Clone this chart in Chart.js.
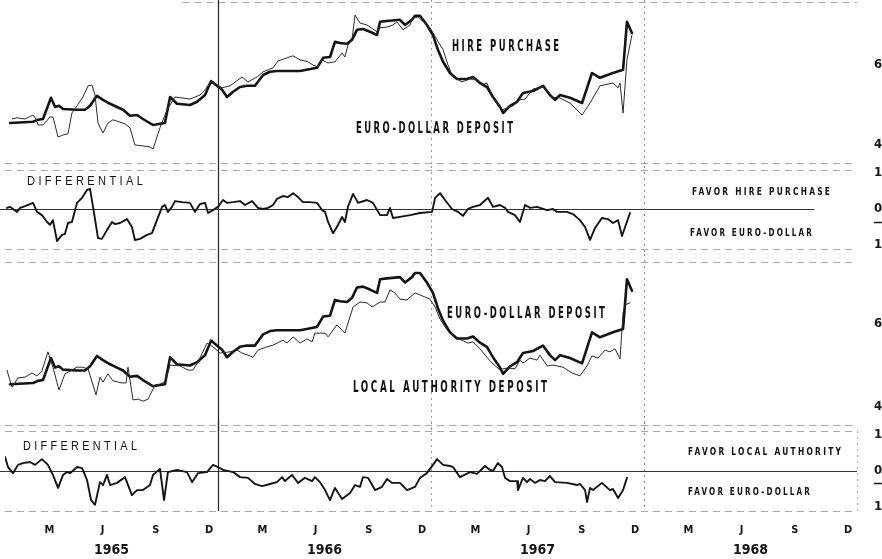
<!DOCTYPE html>
<html>
<head>
<meta charset="utf-8">
<script src="https://cdn.jsdelivr.net/npm/chart.js@4.4.1/dist/chart.umd.min.js"></script>
<style>
  html, body { margin: 0; padding: 0; background: #fff; }
  #wrap { position: relative; width: 882px; height: 559px; overflow: hidden; background: #fff; }
  canvas { position: absolute; left: 0; }
  .lbl { position: absolute; line-height: 1; white-space: nowrap; transform-origin: 0 50%; color: #111; }
  .big { font: bold 15px 'Liberation Sans Narrow', 'DejaVu Sans Condensed', sans-serif; letter-spacing: 4px; }
  .sm { font: bold 11px 'Liberation Sans Narrow', 'DejaVu Sans Condensed', sans-serif; letter-spacing: 3px; }
  .reg { font: 13px 'Liberation Sans', 'DejaVu Sans', sans-serif; letter-spacing: 4px; }
</style>
</head>
<body>
<div id="wrap">
  <canvas id="c1" width="882" height="166" style="top:0px"></canvas>
  <canvas id="c2" width="882" height="88" style="top:166px"></canvas>
  <canvas id="c3" width="882" height="177" style="top:254px"></canvas>
  <canvas id="c4" width="882" height="138" style="top:421px"></canvas>

  <div class="lbl big" data-w="107" style="left:452px; top:46px;">HIRE PURCHASE</div>
  <div class="lbl big" data-w="157" style="left:356px; top:128px;">EURO-DOLLAR DEPOSIT</div>
  <div class="lbl reg" data-w="116" style="left:27px; top:180px;">DIFFERENTIAL</div>
  <div class="lbl sm" data-w="138" style="left:692px; top:191px;">FAVOR HIRE PURCHASE</div>
  <div class="lbl sm" data-w="122" style="left:690px; top:232px;">FAVOR EURO-DOLLAR</div>
  <div class="lbl big" data-w="158" style="left:447px; top:313px;">EURO-DOLLAR DEPOSIT</div>
  <div class="lbl big" data-w="194" style="left:353px; top:387px;">LOCAL AUTHORITY DEPOSIT</div>
  <div class="lbl reg" data-w="114" style="left:23px; top:445px;">DIFFERENTIAL</div>
  <div class="lbl sm" data-w="153" style="left:688px; top:451px;">FAVOR LOCAL AUTHORITY</div>
  <div class="lbl sm" data-w="122" style="left:688px; top:491px;">FAVOR EURO-DOLLAR</div>
</div>
<script>
// ---------- axis labels ----------
const monthLetters = ['M', 'J', 'S', 'D'];
const monthTickPos = [2.5, 5.5, 8.5, 11.5, 14.5, 17.5, 20.5, 23.5, 26.5, 29.5, 32.5, 35.5, 38.5, 41.5, 44.5, 47.5];
const yearLabels = ['1965', '1966', '1967', '1968'];
const yearTickPos = [6, 18, 30, 42];
const rateTicks = [4, 6];
const diffTicks = [-1, 0, 1];

// ---------- data (x = months since 1 Jan 1965, y = percent) ----------
const euroDollarT = [0.28,1.58,1.86,2.14,2.59,2.82,3.04,3.27,4.06,4.51,4.79,5.18,5.52,5.92,6.31,6.65,7.04,7.44,7.77,8.34,8.73,9.01,9.30,9.69,10.42,10.82,11.27,11.61,11.94,12.23,12.51,12.85,13.24,13.63,14.08,14.54,14.93,15.32,16.62,17.58,17.92,18.31,18.59,18.87,19.27,19.55,19.83,20.17,20.56,20.96,21.13,21.52,22.25,22.54,22.93,23.10,23.38,23.77,24.11,24.39,24.68,25.07,25.46,26.03,26.37,26.76,27.15,27.49,27.89,28.06,28.45,28.85,29.18,29.75,30.31,30.70,30.99,31.27,31.83,32.51,33.07,33.52,34.25,34.82,35.04,35.32];
const euroDollarRate = [4.55,4.58,4.63,4.65,5.18,4.95,4.98,4.90,4.88,4.88,4.98,5.23,5.13,5.03,4.95,4.88,4.73,4.75,4.65,4.50,4.53,4.55,5.20,5.03,5.00,5.08,5.25,5.60,5.48,5.38,5.20,5.33,5.45,5.48,5.48,5.75,5.83,5.85,5.85,5.93,6.18,6.20,6.58,6.55,6.53,6.63,6.88,6.90,6.83,6.75,7.08,7.10,7.13,7.00,7.13,7.23,7.23,7.00,6.75,6.38,6.08,5.80,5.65,5.65,5.70,5.55,5.45,5.20,4.95,4.80,4.98,5.08,5.30,5.35,5.48,5.25,5.13,5.25,5.18,5.05,5.80,5.68,5.80,5.88,7.08,6.80];

const hirePurchaseT = [0.39,0.68,1.13,1.58,1.75,1.86,2.14,2.54,2.70,2.99,3.27,3.55,3.77,4.06,4.39,4.68,4.90,5.07,5.24,5.52,5.80,6.08,6.76,7.04,7.32,7.77,8.17,8.34,8.73,9.13,9.58,10.42,10.99,11.27,11.61,12.23,12.68,13.35,13.69,14.20,14.54,15.10,15.38,15.89,16.23,16.62,17.07,17.35,17.63,17.86,18.20,18.59,18.99,19.15,19.32,19.55,19.72,20.00,20.39,20.96,21.13,21.52,21.86,22.08,22.42,22.82,22.99,23.27,23.66,23.94,24.34,24.68,24.96,25.24,25.75,26.20,26.65,26.87,27.15,27.49,28.00,28.34,28.62,29.01,29.30,29.75,30.31,30.54,30.87,31.15,31.83,32.51,32.96,33.52,34.25,34.54,34.65,34.82,35.04,35.32];
const hirePurchaseRate = [4.65,4.68,4.65,4.75,4.65,4.50,4.50,4.70,4.70,4.20,4.25,4.28,4.80,4.98,5.20,5.48,5.50,5.25,4.55,4.30,4.55,4.63,4.53,4.43,4.00,3.98,3.95,3.90,4.43,4.88,5.20,5.15,5.25,5.38,5.60,5.43,5.48,5.70,5.58,5.70,5.83,5.93,6.10,6.18,6.23,6.13,6.08,6.00,5.95,6.13,6.05,6.08,6.30,6.20,6.50,6.63,7.25,7.05,7.00,6.83,6.93,6.95,7.00,7.08,6.88,7.00,7.18,7.20,7.05,6.93,6.63,6.38,6.00,5.70,5.58,5.65,5.63,5.50,5.55,5.20,4.88,4.93,4.98,5.13,5.15,5.40,5.45,5.38,5.18,5.20,5.05,4.75,5.05,5.48,5.55,5.43,5.55,4.80,6.13,6.75];

const localAuthT = [0.11,0.39,0.73,1.13,1.52,1.80,2.08,2.42,2.70,3.04,3.38,4.06,4.34,4.68,5.13,5.35,5.52,5.80,6.08,6.59,6.82,6.93,7.21,7.49,7.77,8.06,8.45,8.73,9.01,9.30,9.86,10.31,10.59,10.87,11.38,11.72,12.11,12.68,13.07,13.35,13.69,13.97,14.25,14.76,15.10,15.66,15.89,16.23,16.62,17.01,17.30,17.46,18.03,18.20,18.70,19.15,19.61,20.00,20.39,20.68,21.13,21.41,21.69,21.97,22.25,22.65,23.10,23.66,23.94,24.23,24.51,24.90,25.35,25.75,26.08,26.37,26.76,27.15,27.44,27.89,28.06,28.34,28.73,29.01,29.18,29.58,29.97,30.14,30.54,30.87,31.44,31.94,32.39,32.79,33.07,33.41,33.80,34.08,34.37,34.65,34.82,34.93,35.21];
const localAuthRate = [4.89,4.48,4.70,4.72,4.82,4.75,4.87,5.33,4.96,4.41,4.80,4.96,4.96,4.92,4.29,4.72,4.60,4.80,4.63,4.58,4.58,4.96,4.17,4.19,4.14,4.19,4.53,4.55,4.60,5.01,4.99,4.89,4.89,5.08,5.54,5.45,5.30,5.33,5.37,5.30,5.25,5.20,5.37,5.45,5.49,5.61,5.54,5.69,5.54,5.64,5.57,5.78,5.78,5.69,5.98,5.78,6.41,6.53,6.51,6.41,6.53,6.53,6.82,6.75,6.60,6.58,6.75,6.65,6.60,6.41,6.12,5.86,5.66,5.61,5.54,5.57,5.40,5.20,5.06,4.89,4.92,4.94,4.92,5.13,5.06,5.18,5.13,5.25,4.99,5.01,4.96,4.82,4.75,4.99,5.23,5.18,5.37,5.33,5.40,5.16,6.27,6.46,6.51];

// differential: hire purchase minus euro-dollar (points)
const diffHireT = [0.11,0.28,0.45,0.68,0.85,1.13,1.58,1.80,2.08,2.37,2.54,2.70,2.93,3.21,3.38,3.55,3.77,4.06,4.34,4.62,4.79,4.96,5.24,5.46,5.75,6.03,6.20,6.48,6.87,7.15,7.32,7.61,8.00,8.28,8.56,8.85,9.01,9.18,9.41,9.58,9.97,10.42,10.70,10.99,11.27,11.44,11.72,12.00,12.28,12.51,12.85,13.24,13.52,13.92,14.25,14.54,14.82,15.10,15.32,15.66,15.94,16.23,16.51,16.79,17.18,17.58,17.86,18.03,18.20,18.48,18.70,18.99,19.15,19.32,19.61,19.89,20.39,20.73,21.13,21.52,21.69,21.86,22.25,22.82,23.38,24.06,24.23,24.51,24.79,25.18,25.52,25.80,26.08,26.37,26.76,27.21,27.49,27.89,28.17,28.34,28.73,29.01,29.30,29.58,29.97,30.54,30.87,31.10,31.66,32.00,32.39,32.68,32.96,33.24,33.63,33.97,34.25,34.54,34.76,35.21];
const diffHire = [0.03,0.06,0.00,-0.08,0.03,0.08,0.17,-0.08,-0.17,-0.36,-0.44,-0.31,-0.89,-0.72,-0.69,-0.39,-0.36,0.17,0.31,0.53,0.56,0.06,-0.81,-0.83,-0.58,-0.36,-0.42,-0.39,-0.28,-0.50,-0.86,-0.83,-0.72,-0.67,-0.31,0.06,0.11,-0.08,0.06,0.22,0.19,0.17,-0.08,0.14,0.17,-0.11,-0.03,0.06,0.25,0.17,0.19,0.22,0.11,0.22,0.03,0.00,0.03,0.11,0.28,0.36,0.33,0.44,0.33,0.19,0.19,0.17,-0.03,-0.08,-0.36,-0.67,-0.50,-0.22,-0.36,0.06,0.42,0.17,0.25,0.17,-0.17,-0.17,0.03,-0.25,-0.22,-0.17,-0.11,-0.08,0.31,0.44,0.25,0.00,-0.08,-0.19,0.00,0.06,0.11,0.31,0.06,0.11,0.03,-0.08,-0.17,-0.36,0.11,0.03,0.06,-0.03,0.00,-0.08,-0.08,-0.14,-0.31,-0.50,-0.86,-0.53,-0.25,-0.28,-0.39,-0.31,-0.75,-0.11];

// differential: local authority minus euro-dollar (points)
const diffLocalT = [0.00,0.17,0.45,0.73,1.01,1.41,1.69,2.08,2.42,2.70,2.99,3.27,3.49,3.66,4.06,4.34,4.62,4.85,5.07,5.35,5.52,5.75,5.92,6.31,6.76,7.15,7.44,7.77,8.17,8.34,8.73,8.96,9.18,9.69,10.25,10.54,10.87,11.38,11.72,12.00,12.28,12.85,13.24,13.69,14.08,14.48,14.93,15.32,15.61,15.77,16.17,16.51,16.90,17.30,17.46,17.75,18.03,18.31,18.59,18.99,19.44,19.72,20.00,20.17,20.45,20.85,21.24,21.52,21.80,22.25,22.65,23.10,23.38,23.77,24.11,24.34,24.68,25.07,25.24,25.63,26.20,26.59,27.04,27.32,27.49,27.77,28.00,28.17,28.45,28.85,28.90,29.18,29.41,29.58,29.86,30.14,30.42,30.70,30.99,31.66,32.23,32.39,32.68,32.79,32.96,33.13,33.63,34.08,34.25,34.54,34.82,35.04];
const diffLocal = [0.39,0.11,-0.06,0.17,0.22,0.25,0.17,0.33,0.17,-0.11,-0.47,-0.11,-0.03,-0.06,0.11,0.08,-0.25,-0.81,-0.94,-0.31,-0.39,-0.11,-0.39,-0.33,-0.17,-0.67,-0.53,-0.53,-0.39,-0.11,0.06,-0.81,-0.03,0.03,-0.03,-0.31,-0.06,-0.03,0.17,0.11,0.03,-0.03,-0.17,-0.19,-0.36,-0.42,-0.36,-0.31,-0.17,-0.28,-0.11,-0.33,-0.19,-0.28,-0.17,-0.31,-0.53,-0.81,-0.47,-0.78,-0.61,-0.39,-0.44,-0.17,-0.19,-0.53,-0.44,-0.22,-0.33,-0.33,-0.53,-0.44,-0.19,-0.06,0.17,0.33,0.17,0.14,0.11,-0.17,-0.03,-0.08,0.14,0.03,0.00,0.22,0.11,-0.19,-0.28,-0.28,-0.53,-0.19,-0.31,-0.22,-0.33,-0.25,-0.28,-0.14,-0.31,-0.33,-0.39,-0.36,-0.53,-0.86,-0.47,-0.53,-0.33,-0.53,-0.50,-0.75,-0.53,-0.19];

// ---------- helpers ----------
const pts = (xs, ys) => xs.map((x, i) => ({x: x, y: ys[i]}));
const narrow = "'Liberation Sans Narrow', 'DejaVu Sans Condensed', sans-serif";
const INK = '#141414';

const framePlugin = {
  id: 'frame',
  beforeDatasetsDraw(chart, args, opts) {
    const {ctx, scales} = chart;
    const sx = scales.x, sy = scales.y;
    ctx.save();
    (opts.hLines || []).forEach(h => {
      const py = Math.round(sy.getPixelForValue(h.v)) + 0.5;
      ctx.beginPath();
      ctx.setLineDash(h.dash || []);
      ctx.strokeStyle = h.color || INK;
      ctx.lineWidth = h.width || 1;
      ctx.moveTo(sx.getPixelForValue(h.from), py);
      ctx.lineTo(sx.getPixelForValue(h.to), py);
      ctx.stroke();
    });
    (opts.vLines || []).forEach(v => {
      const px = Math.round(sx.getPixelForValue(v.m)) + 0.5;
      ctx.beginPath();
      ctx.setLineDash(v.dash || []);
      ctx.strokeStyle = v.color || INK;
      ctx.lineWidth = v.width || 1;
      const top = v.top !== undefined ? v.top : 0;
      const bot = v.bottom === 'area' ? chart.chartArea.bottom : chart.height;
      ctx.moveTo(px, top);
      ctx.lineTo(px, bot);
      ctx.stroke();
    });
    ctx.restore();
  }
};

function yAxis(min, max, ticks) {
  return {
    position: 'right', min: min, max: max,
    grid: {display: false, drawTicks: false},
    border: {display: false},
    afterBuildTicks: s => { s.ticks = ticks.map(v => ({value: v})); },
    ticks: {
      padding: 17, color: INK,
      font: {family: narrow, size: 13, weight: 'bold'},
      callback: v => String(Math.abs(v))
    },
    afterFit: s => { s.width = 25; s.paddingTop = 0; s.paddingBottom = 0; }
  };
}
const hiddenX = {type: 'linear', min: 0, max: 48, display: false};

function line(data, width, color) {
  return {data: data, borderColor: color, borderWidth: width, pointRadius: 0,
          tension: 0, fill: false, borderJoinStyle: 'round', borderCapStyle: 'round'};
}
function baseOptions(scales, frame, padTop) {
  return {
    responsive: false, animation: false, devicePixelRatio: 1,
    layout: {padding: {left: 5, right: 0, top: padTop || 0, bottom: 0}},
    plugins: {legend: {display: false}, tooltip: {enabled: false}, frame: frame},
    scales: scales
  };
}
const yearLines = [
  {m: 12, color: '#222', width: 1.2},
  {m: 24, color: '#9a9a9a', dash: [2, 4]},
  {m: 36, color: '#8a8a8a', dash: [2, 4]}
];
const dashGrey = {color: '#a8a8a8', dash: [7, 5]};

// Panel 1: hire purchase vs euro-dollar
new Chart(document.getElementById('c1'), {
  type: 'line',
  data: {datasets: [
    line(pts(hirePurchaseT, hirePurchaseRate), 1, '#2a2a2a'),
    line(pts(euroDollarT, euroDollarRate), 2.6, INK)
  ]},
  options: baseOptions({x: hiddenX, y: yAxis(3.475, 7.625, rateTicks)}, {
    hLines: [
      Object.assign({v: 7.575, from: 10, to: 48}, dashGrey),
      Object.assign({v: 3.55, from: 0, to: 48}, dashGrey)
    ],
    vLines: yearLines
  }), plugins: [framePlugin]
});

// Panel 2: differential hire purchase - euro-dollar
new Chart(document.getElementById('c2'), {
  type: 'line',
  data: {datasets: [ line(pts(diffHireT, diffHire), 1.9, INK) ]},
  options: baseOptions({x: hiddenX, y: yAxis(-1.25, 1.194, diffTicks)}, {
    hLines: [
      Object.assign({v: 1.08, from: 0, to: 48}, dashGrey),
      {v: 0, from: -0.3, to: 45.6, color: '#333', width: 1},
      Object.assign({v: -1.11, from: 0, to: 48}, dashGrey),
      {v: -0.36, from: 48.95, to: 49.4, color: INK, width: 1.5}
    ],
    vLines: yearLines
  }), plugins: [framePlugin]
});

// Panel 3: euro-dollar vs local authority
new Chart(document.getElementById('c3'), {
  type: 'line',
  data: {datasets: [
    line(pts(localAuthT, localAuthRate), 1, '#2a2a2a'),
    line(pts(euroDollarT, euroDollarRate), 2.6, INK)
  ]},
  options: baseOptions({x: hiddenX, y: yAxis(3.422, 7.687, rateTicks)}, {
    hLines: [
      Object.assign({v: 7.49, from: 0, to: 48}, dashGrey),
      Object.assign({v: 3.57, from: 0, to: 48}, dashGrey)
    ],
    vLines: yearLines
  }), plugins: [framePlugin]
});

// Panel 4: differential local authority - euro-dollar, with time axis
new Chart(document.getElementById('c4'), {
  type: 'line',
  data: {datasets: [ line(pts(diffLocalT, diffLocal), 1.9, INK) ]},
  options: baseOptions({
    x: {
      type: 'linear', min: 0, max: 48, position: 'bottom', weight: 0,
      grid: {display: false, drawTicks: false}, border: {display: false},
      afterBuildTicks: s => { s.ticks = monthTickPos.map(v => ({value: v})); },
      ticks: {autoSkip: false, maxRotation: 0, padding: 13, color: INK,
              font: {family: narrow, size: 11, weight: 'bold'},
              callback: (v, i) => monthLetters[i % 4]},
      afterFit: s => { s.height = 26; }
    },
    x2: {
      type: 'linear', min: 0, max: 48, position: 'bottom', weight: 1,
      grid: {display: false, drawTicks: false}, border: {display: false},
      afterBuildTicks: s => { s.ticks = yearTickPos.map(v => ({value: v})); },
      ticks: {autoSkip: false, maxRotation: 0, padding: 5, color: INK,
              font: {family: narrow, size: 14, weight: 'bold'},
              callback: (v, i) => yearLabels[i]},
      afterFit: s => { s.height = 22; }
    },
    y: yAxis(-1.111, 1.111, diffTicks)
  }, {
    hLines: [
      Object.assign({v: 1.1, from: 0, to: 48}, dashGrey),
      {v: 0, from: -0.3, to: 48, color: '#333', width: 1},
      Object.assign({v: -1.1, from: 0, to: 48}, dashGrey),
      {v: -0.33, from: 48.95, to: 49.4, color: INK, width: 1.5}
    ],
    vLines: [
      {m: 12, color: '#222', width: 1.2, bottom: 'area'},
      {m: 24, color: '#9a9a9a', dash: [2, 4], bottom: 'area'},
      {m: 36, color: '#8a8a8a', dash: [2, 4], bottom: 'area'},
      {m: 48, color: '#b0b0b0', dash: [2, 4], top: 10, bottom: 'area'}
    ]
  }, 10), plugins: [framePlugin]
});

// fit annotation widths: keep the letter spacing, condense horizontally
document.querySelectorAll('.lbl').forEach(el => {
  const target = parseFloat(el.dataset.w);
  const ls = parseFloat(getComputedStyle(el).letterSpacing) || 0;
  const w = el.getBoundingClientRect().width - ls;
  const k = target / w;
  el.style.transform = 'translateY(-50%) scaleX(' + k.toFixed(3) + ')';
});
</script>
</body>
</html>
